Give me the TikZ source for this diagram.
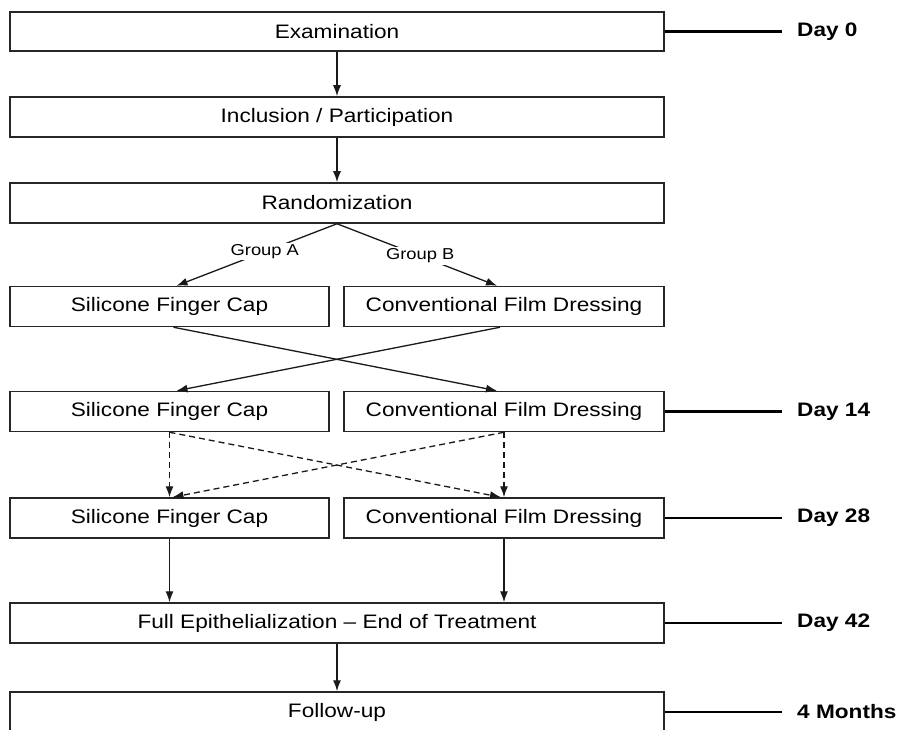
\documentclass[tikz,border=0pt]{standalone}
\usepackage{fontspec}
\setmainfont{Liberation Sans}[FakeStretch=1.16]
\usetikzlibrary{arrows.meta}
\begin{document}
\begin{tikzpicture}[x=1pt,y=-1pt,
  box/.style={draw=black!85, line width=1.5pt, minimum height=40pt, inner sep=0pt, font=\fontsize{19.5}{22}\selectfont},
  wide/.style={box, minimum width=654pt},
  half/.style={box, minimum width=319pt},
  arr/.style={draw=black!90, line width=1.3pt, -{Latex[length=11pt,width=8pt]}},
  dasharr/.style={arr, dash pattern=on 6pt off 4pt},
  timeline/.style={draw=black, line width=2.6pt},
  daylabel/.style={anchor=west, inner sep=0pt, font=\bfseries\fontsize{19.5}{22}\selectfont},
  grp/.style={fill=white, inner sep=1.5pt, font=\fontsize{15.8}{18}\selectfont}]
\useasboundingbox (0,0) rectangle (900,730);
\clip (0,0) rectangle (900,730);
% boxes
\node[wide, minimum height=39pt] (exam) at (337,31.5) {Examination};
\node[wide] (incl) at (337,117) {Inclusion / Participation};
\node[wide] (rand) at (337,203) {Randomization};
\node[half] (a1) at (169.5,306.5) {Silicone Finger Cap};
\node[half, minimum width=320pt] (b1) at (504,306.5) {Conventional Film Dressing};
\node[half] (a2) at (169.5,411.5) {Silicone Finger Cap};
\node[half, minimum width=320pt] (b2) at (504,411.5) {Conventional Film Dressing};
\node[half] (a3) at (169.5,518) {Silicone Finger Cap};
\node[half, minimum width=320pt] (b3) at (504,518) {Conventional Film Dressing};
\node[wide] (full) at (337,623) {Full Epithelialization -- End of Treatment};
\node[wide] (follow) at (337,712) {Follow-up};
% day labels
\node[daylabel] (d0) at (797,31.5) {Day 0};
\node[daylabel] (d14) at (797,411.5) {Day 14};
\node[daylabel] (d28) at (797,518) {Day 28};
\node[daylabel] (d42) at (797,623) {Day 42};
\node[daylabel] (d4m) at (797,712) {4 Months};
% timelines
\draw[timeline] (exam.east) -- ([xshift=-15pt]d0.west);
\draw[timeline] (b2.east) -- ([xshift=-15pt]d14.west);
\draw[timeline] (b3.east) -- ([xshift=-15pt]d28.west);
\draw[timeline] (full.east) -- ([xshift=-15pt]d42.west);
\draw[timeline] (follow.east) -- ([xshift=-15pt]d4m.west);
% arrows
\draw[arr] (exam.south) -- (incl.north);
\draw[arr] (incl.south) -- (rand.north);
\draw[arr] (rand.south) -- node[grp, pos=0.45] {Group A} ([xshift=7pt]a1.north);
\draw[arr] (rand.south) -- node[grp, pos=0.52] {Group B} ([xshift=-7pt]b1.north);
\draw[arr] ([xshift=4pt]a1.south) -- ([xshift=-7pt]b2.north);
\draw[arr] ([xshift=-4pt]b1.south) -- ([xshift=7pt]a2.north);
\draw[dasharr] (a2.south) -- (a3.north);
\draw[dasharr] (b2.south) -- (b3.north);
\draw[dasharr] (a2.south) -- ([xshift=-3pt]b3.north);
\draw[dasharr] (b2.south) -- ([xshift=3pt]a3.north);
\draw[arr] (a3.south) -- (a3.south |- full.north);
\draw[arr] (b3.south) -- (b3.south |- full.north);
\draw[arr] (full.south) -- (follow.north);
\end{tikzpicture}
\end{document}
